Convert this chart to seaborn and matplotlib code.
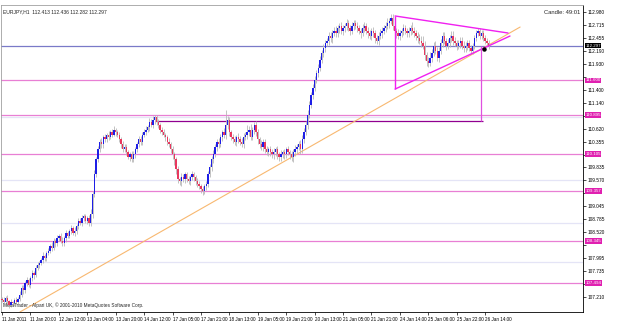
import numpy as np
import pandas as pd
import matplotlib
matplotlib.use("Agg")
import matplotlib.pyplot as plt
import matplotlib.transforms as mtransforms
import seaborn as sns

# ---------------- data ----------------
symbol_title = "EURJPY,H1  112.413 112.436 112.282 112.297"
candle_text = "Candle: 49:01"
copyright_text = "MetaTrader - Alpari UK, \u00a9 2001-2010 MetaQuotes Software Corp."

closes = [
    107.15, 107.10, 107.20, 107.12, 107.05, 107.10, 107.08, 107.15, 107.10, 107.18, 107.25,
    107.40, 107.35, 107.50, 107.55, 107.45, 107.60, 107.70, 107.65, 107.80, 107.85,
    107.90, 107.95, 108.05, 108.00, 108.10, 108.15, 108.25, 108.20, 108.35, 108.30,
    108.40, 108.45, 108.35, 108.30, 108.40, 108.50, 108.45, 108.55, 108.60, 108.50,
    108.55, 108.65, 108.75, 108.70, 108.80, 108.85, 108.75, 108.80, 108.70, 108.90,
    109.30, 109.70, 110.00, 110.20, 110.35, 110.30, 110.45, 110.40,
    110.50, 110.45, 110.55, 110.50, 110.60, 110.55, 110.50, 110.40, 110.30, 110.20, 110.25, 110.15,
    110.05, 110.10, 110.00, 110.10, 110.20, 110.30, 110.40, 110.35, 110.50, 110.55,
    110.60, 110.65, 110.75, 110.70, 110.80, 110.85, 110.75, 110.70, 110.60, 110.55,
    110.50, 110.45, 110.35, 110.30, 110.20, 110.10, 110.00, 109.80, 109.60, 109.55,
    109.65, 109.60, 109.70, 109.60, 109.55, 109.65, 109.70, 109.65, 109.55, 109.50, 109.45, 109.40, 109.35, 109.45, 109.50,
    109.70, 109.85, 110.00, 110.10, 110.25, 110.35, 110.30, 110.45, 110.55, 110.50, 110.70,
    110.80, 110.55, 110.45, 110.40, 110.35, 110.45, 110.40, 110.35, 110.30, 110.45, 110.50, 110.55, 110.60, 110.45,
    110.60, 110.70, 110.55, 110.40, 110.30, 110.25, 110.35, 110.20, 110.15, 110.20,
    110.15, 110.10, 110.15, 110.20, 110.10, 110.05, 110.10, 110.15, 110.10, 110.20, 110.15, 110.10, 110.05, 110.15, 110.20, 110.25, 110.30, 110.20,
    110.40, 110.55, 110.70, 110.90, 111.10, 111.30, 111.45, 111.60, 111.75, 111.85, 112.00, 112.15, 112.25, 112.35,
    112.40, 112.50, 112.45, 112.55, 112.60, 112.55, 112.65, 112.70, 112.60, 112.65, 112.70, 112.75, 112.65, 112.60, 112.70, 112.75, 112.70, 112.65,
    112.60, 112.55, 112.65, 112.70, 112.60, 112.55, 112.50, 112.60, 112.55, 112.45, 112.40, 112.50, 112.55, 112.60, 112.65, 112.70, 112.75, 112.80, 112.85, 112.70,
    112.60, 112.55, 112.50, 112.55, 112.60, 112.65, 112.60, 112.55, 112.60, 112.65, 112.60, 112.55, 112.50, 112.45, 112.40,
    112.35, 112.30, 112.10, 111.98, 111.95, 112.05, 112.15, 112.30, 112.20, 112.05, 112.20, 112.35, 112.50, 112.40, 112.30,
    112.35, 112.45, 112.50, 112.40, 112.35, 112.30, 112.35, 112.40, 112.30, 112.25, 112.30, 112.35, 112.25, 112.20, 112.30,
    112.45, 112.55, 112.60, 112.50, 112.55, 112.45, 112.40, 112.35, 112.297,
]
first_open = 107.18
# wick lengths in hundredths of a yen (hand-read)
upper_wick = [
    4, 6, 3, 5, 4, 7, 3, 5, 6, 4, 8, 5, 6, 4, 7, 5, 3, 6, 4, 5,
    6, 4, 5, 7, 3, 5, 6, 4, 8, 5, 4, 6, 3, 5, 7, 4, 6, 5, 4, 6,
    5, 7, 4, 6, 5, 8, 4, 5, 6, 7, 9, 6, 8, 5, 7, 6, 8, 5, 6, 4,
    7, 5, 6, 8, 4, 5, 6, 4, 7, 5, 6, 4, 5, 7, 6, 4, 5, 6, 8, 5,
    6, 7, 5, 8, 6, 7, 4, 5, 6, 4, 5, 6, 4, 5, 7, 4, 6, 5, 4, 6,
    5, 7, 6, 4, 5, 6, 4, 7, 5, 4, 6, 5, 4, 6, 5, 6, 7, 5, 6, 8,
    6, 5, 7, 6, 5, 9, 30, 8, 6, 5, 7, 6, 5, 8, 6, 7, 9, 6, 14, 8,
    12, 6, 5, 7, 6, 4, 8, 5, 6, 7, 4, 6, 5, 7, 4, 6, 5, 8, 4, 6,
    5, 7, 4, 6, 5, 8, 6, 7, 8, 9, 8, 7, 9, 8, 6, 7, 8, 6, 7, 8,
    6, 9, 7, 6, 8, 7, 6, 8, 9, 7, 6, 8, 7, 6, 8, 7, 6, 8, 7, 6,
    8, 7, 6, 9, 7, 6, 8, 7, 6, 8, 7, 6, 8, 9, 7, 6, 8, 10, 6, 8,
    9, 7, 6, 8, 7, 6, 8, 7, 6, 8, 7, 12, 8, 6, 7, 8, 9, 14, 10, 8,
    9, 12, 8, 7, 9, 8, 7, 9, 8, 7, 6, 8, 7, 9, 10, 8, 7, 6, 8, 7,
    9, 8, 7,
]
lower_wick = [
    5, 4, 6, 5, 7, 4, 6, 5, 4, 6, 5, 4, 7, 5, 6, 4, 5, 6, 7, 4,
    5, 6, 4, 5, 7, 6, 4, 5, 6, 4, 7, 5, 6, 4, 5, 6, 7, 4, 5, 6,
    4, 5, 6, 7, 4, 5, 6, 4, 7, 5, 6, 8, 6, 7, 5, 6, 8, 7, 5, 6,
    7, 5, 6, 4, 7, 5, 6, 8, 5, 6, 7, 5, 8, 6, 5, 7, 6, 5, 6, 7,
    5, 6, 4, 7, 5, 6, 8, 5, 6, 7, 5, 6, 8, 7, 6, 8, 9, 12, 10, 8,
    7, 9, 6, 8, 7, 6, 8, 7, 9, 8, 7, 6, 8, 7, 6, 8, 7, 6, 8, 7,
    6, 8, 7, 6, 8, 7, 9, 8, 7, 6, 8, 7, 9, 8, 7, 6, 8, 7, 9, 8,
    7, 6, 8, 7, 9, 8, 7, 9, 8, 7, 9, 8, 7, 9, 8, 10, 9, 8, 7, 9,
    8, 7, 9, 8, 10, 9, 8, 7, 9, 8, 7, 6, 8, 7, 6, 8, 7, 6, 8, 7,
    6, 8, 7, 6, 8, 7, 9, 6, 8, 7, 9, 6, 8, 7, 9, 6, 8, 7, 9, 6,
    8, 7, 9, 6, 8, 7, 9, 6, 8, 7, 9, 6, 8, 7, 9, 6, 8, 7, 9, 6,
    8, 7, 9, 6, 8, 7, 9, 6, 8, 7, 9, 6, 8, 8, 9, 6, 8, 7, 9, 10,
    8, 7, 9, 6, 8, 7, 9, 6, 8, 7, 9, 6, 8, 7, 9, 6, 8, 7, 9, 6,
    8, 7, 9,
]

date_labels = ["11 Jan 2011", "11 Jan 20:00", "12 Jan 12:00", "13 Jan 04:00", "13 Jan 20:00",
               "14 Jan 12:00", "17 Jan 05:00", "17 Jan 21:00", "18 Jan 13:00", "19 Jan 05:00",
               "19 Jan 21:00", "20 Jan 13:00", "21 Jan 05:00", "21 Jan 21:00", "24 Jan 14:00",
               "25 Jan 06:00", "25 Jan 22:00", "26 Jan 14:00"]
bars_per_label = 16

price_ticks = [112.980, 112.715, 112.455, 112.190, 111.930, 111.665, 111.400, 111.140,
               110.880, 110.620, 110.355, 110.095, 109.835, 109.570, 109.310, 109.045,
               108.785, 108.520, 108.260, 107.995, 107.735, 107.475, 107.210]

bid_price = 112.297
pink_levels = [111.60, 110.895, 110.105, 109.357, 108.345, 107.494]
lavender_levels = [110.855, 109.58, 108.70, 107.91]
range_top = 110.773          # horizontal line from the 14 Jan high
range_span = (86, 271)
blue_level = 112.297

trend_pts = [(10.1, 106.907), (291.7, 112.676)]       # orange up-trendline
tri_upper = [(221.3, 112.90), (284.9, 112.555)]
tri_lower = [(221.3, 111.42), (286.0, 112.494)]
tri_vertical = (221.3, 111.42, 112.90)
target_vertical = (269.5, 110.773, 112.29)
apex_point = (271.4, 112.23)

# ---------------- build table ----------------
n = len(closes)
opens = [first_open] + closes[:-1]
uw = (upper_wick + [6] * n)[:n]
lw = (lower_wick + [6] * n)[:n]
df = pd.DataFrame({"bar": np.arange(n), "open": opens, "close": closes})
df["high"] = df[["open", "close"]].max(axis=1) + np.array(uw) / 100.0
df["low"] = df[["open", "close"]].min(axis=1) - np.array(lw) / 100.0
df["up"] = df["close"] >= df["open"]

# ---------------- figure ----------------
sns.set_theme(style="white")
plt.rcParams["font.family"] = ["Liberation Sans", "DejaVu Sans"]
W, H = 625, 327
fig = plt.figure(figsize=(W / 100, H / 100), dpi=100)
fig.patch.set_facecolor("white")
ax = fig.add_axes([1 / W, 1 - 312 / H, 582 / W, 307 / H])
ax.set_facecolor("white")

x_left, x_right = -0.563, 327.1
y_bot, y_top = 106.907, 113.122
ax.set_xlim(x_left, x_right)
ax.set_ylim(y_bot, y_top)

# horizontal levels
for lv in lavender_levels:
    ax.axhline(lv, color="#e4e4f6", lw=0.9, zorder=1)
for lv in pink_levels:
    ax.axhline(lv, color="#e87fd4", lw=0.9, zorder=1)
ax.axhline(blue_level, color="#7a7ac8", lw=0.9, zorder=1)
ax.hlines(range_top, range_span[0], range_span[1], color="#900090", lw=0.9, zorder=2)

# trendline via seaborn
tdf = pd.DataFrame(trend_pts, columns=["bar", "price"])
sns.lineplot(data=tdf, x="bar", y="price", color="#f8b870", lw=0.8, ax=ax, zorder=2)

# candles
ax.vlines(df["bar"], df["low"], df["high"], color="#b8b8b8", lw=0.6, zorder=3)
up = df[df["up"]]
dn = df[~df["up"]]
ax.bar(up["bar"], (up["close"] - up["open"]).clip(lower=0.012), bottom=up["open"],
       width=0.75, color="#1e1ee6", edgecolor="none", zorder=4)
ax.bar(dn["bar"], (dn["open"] - dn["close"]).clip(lower=0.012), bottom=dn["close"],
       width=0.75, color="#e8385e", edgecolor="none", zorder=4)

# triangle
mag = "#f020f0"
for seg in (tri_upper, tri_lower):
    sdf = pd.DataFrame(seg, columns=["bar", "price"])
    sns.lineplot(data=sdf, x="bar", y="price", color=mag, lw=1.0, ax=ax, zorder=5)
ax.vlines(tri_vertical[0], tri_vertical[1], tri_vertical[2], color=mag, lw=1.0, zorder=5)
ax.vlines(target_vertical[0], target_vertical[1], target_vertical[2], color="#e050e0", lw=0.9, zorder=5)
ax.plot([apex_point[0]], [apex_point[1]], marker="o", ms=2.2, color="black", zorder=6)

# axes styling
ax.set_xlabel("")
ax.set_ylabel("")
for side in ["left", "top"]:
    ax.spines[side].set_color("#a0a0a0")
    ax.spines[side].set_linewidth(0.6)
for side in ["right", "bottom"]:
    ax.spines[side].set_color("black")
    ax.spines[side].set_linewidth(0.6)

# price scale: labels hidden where a price box covers them (as in the terminal)
box_levels = pink_levels + [bid_price]
ax.yaxis.tick_right()
ax.set_yticks(price_ticks)
ax.set_yticklabels(["" if min(abs(v - b) for b in box_levels) < 0.1 else f"{v:.3f}"
                    for v in price_ticks])
ax.tick_params(axis="y", which="both", length=2, width=0.5, pad=1.5, labelsize=3.4,
               colors="black", right=True, left=False)
xt = [i * bars_per_label for i in range(len(date_labels))]
ax.set_xticks(xt)
ax.set_xticklabels(date_labels)
ax.tick_params(axis="x", length=2, width=0.5, pad=1.5, labelsize=3.3, colors="black", bottom=True)
for lab in ax.get_xticklabels():
    lab.set_horizontalalignment("left")

# right-side price boxes
trans = mtransforms.blended_transform_factory(ax.transAxes, ax.transData)
for lv in pink_levels:
    ax.text(1.004, lv, f"{lv:.3f}", transform=trans, fontsize=3.2, color="white",
            va="center", ha="left", clip_on=False, zorder=10,
            bbox=dict(boxstyle="square,pad=0.12", fc="#e020b0", ec="none"))
ax.text(1.004, bid_price, f"{bid_price:.3f}", transform=trans, fontsize=3.2, color="white",
        va="center", ha="left", clip_on=False, zorder=10,
        bbox=dict(boxstyle="square,pad=0.12", fc="black", ec="none"))

# header texts
ax.text(0.004, 0.985, symbol_title, transform=ax.transAxes, fontsize=3.6, va="top", ha="left")
ax.text(0.995, 0.985, candle_text, transform=ax.transAxes, fontsize=4.2, va="top", ha="right")
ax.text(0.004, 0.012, copyright_text, transform=ax.transAxes, fontsize=3.4, va="bottom", ha="left")

fig.savefig("out.png", dpi=100, facecolor="white")
